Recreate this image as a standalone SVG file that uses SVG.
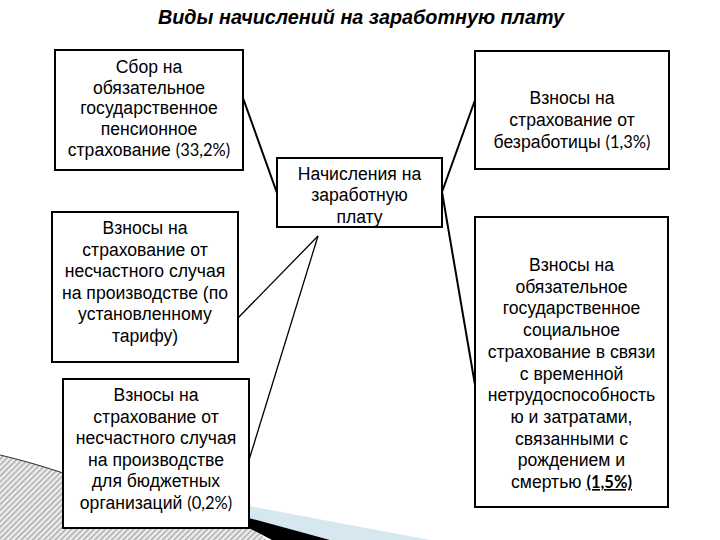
<svg xmlns="http://www.w3.org/2000/svg" width="720" height="540" viewBox="0 0 720 540">
<defs>
<pattern id="hatch" x="0" y="0" width="4" height="4" patternUnits="userSpaceOnUse" patternTransform="rotate(45)">
<rect x="0" y="0" width="4" height="4" fill="#eeeeee"/>
<rect x="0" y="0" width="1.5" height="4" fill="#ababab"/>
</pattern>
<style>
.box{fill:#ffffff;stroke:#000000;stroke-width:2}
.t{font-family:"Liberation Sans",Arial,sans-serif;font-size:17.6px;fill:#000000;text-anchor:middle}
.c{font-family:Lato,"Open Sans",sans-serif;font-size:16.5px}
.conn{stroke:#000000;fill:none}
.title{font-family:"Liberation Sans",Arial,sans-serif;font-size:19.8px;font-weight:bold;font-style:italic;text-anchor:middle;fill:#000000}
</style>
</defs>
<rect width="720" height="540" fill="#ffffff"/>
<g id="decoration">
<path d="M0,455 Q30,462 63,473 L250,524 L266,540 L0,540 Z" fill="#dddddd"/>
<path d="M0,455 Q30,462 63,473 L250,524 L266,540 L0,540 Z" fill="url(#hatch)"/>
<path d="M0,455 Q30,462 63,473" fill="none" stroke="#2a3a40" stroke-width="1.2"/>
<polygon points="249,506 430,540 330,540 249,518" fill="#d6e7ef"/>
<polygon points="249,518 330,540 272,540 249,528" fill="#000000"/>
</g>
<text class="title" x="361" y="24">Виды начислений на заработную плату</text>
<g id="connectors">
<line class="conn" x1="243" y1="98" x2="277" y2="193" stroke-width="2"/>
<line class="conn" x1="442" y1="192" x2="475" y2="100" stroke-width="2"/>
<line class="conn" x1="442" y1="192" x2="475" y2="385" stroke-width="2"/>
<line class="conn" x1="238" y1="318" x2="318" y2="236" stroke-width="1.3"/>
<line class="conn" x1="318" y1="236" x2="249" y2="460" stroke-width="1.3"/>
</g>
<g id="node-pension">
<rect class="box" x="55" y="50" width="188" height="120"/>
<text class="t" x="149" y="73">Сбор на</text>
<text class="t" x="149" y="94">обязательное</text>
<text class="t" x="149" y="114">государственное</text>
<text class="t" x="149" y="135">пенсионное</text>
<text class="t" x="149" y="156">страхование <tspan class="c">(33,2%)</tspan></text>
</g>
<g id="node-center">
<rect class="box" x="277" y="158" width="165" height="69"/>
<text class="t" x="359.5" y="180">Начисления на</text>
<text class="t" x="359.5" y="201">заработную</text>
<text class="t" x="359.5" y="223">плату</text>
</g>
<g id="node-unemployment">
<rect class="box" x="475" y="51" width="194" height="118"/>
<text class="t" x="572" y="104">Взносы на</text>
<text class="t" x="572" y="126">страхование от</text>
<text class="t" x="572" y="148">безработицы <tspan class="c">(1,3%)</tspan></text>
</g>
<g id="node-accident">
<rect class="box" x="52" y="212" width="186" height="150"/>
<text class="t" x="145" y="234">Взносы на</text>
<text class="t" x="145" y="255.6">страхование от</text>
<text class="t" x="145" y="277.2">несчастного случая</text>
<text class="t" x="145" y="298.8">на производстве (по</text>
<text class="t" x="145" y="320.4">установленному</text>
<text class="t" x="145" y="342">тарифу)</text>
</g>
<g id="node-accident-budget">
<rect class="box" x="63" y="379" width="186" height="149"/>
<text class="t" x="156" y="401">Взносы на</text>
<text class="t" x="156" y="422.6">страхование от</text>
<text class="t" x="156" y="444.2">несчастного случая</text>
<text class="t" x="156" y="465.8">на производстве</text>
<text class="t" x="156" y="487.4">для бюджетных</text>
<text class="t" x="156" y="509">организаций <tspan class="c">(0,2%)</tspan></text>
</g>
<g id="node-social">
<rect class="box" x="475" y="217" width="193" height="290"/>
<text class="t" x="571.5" y="271">Взносы на</text>
<text class="t" x="571.5" y="292.7">обязательное</text>
<text class="t" x="571.5" y="314.4">государственное</text>
<text class="t" x="571.5" y="336.1">социальное</text>
<text class="t" x="571.5" y="357.8">страхование в связи</text>
<text class="t" x="571.5" y="379.5">с временной</text>
<text class="t" x="571.5" y="401.2">нетрудоспособность</text>
<text class="t" x="571.5" y="422.9">ю и затратами,</text>
<text class="t" x="571.5" y="444.6">связанными с</text>
<text class="t" x="571.5" y="466.3">рождением и</text>
<text class="t" x="571.5" y="488">смертью <tspan class="c" font-weight="bold" text-decoration="underline">(1,5%)</tspan></text>
</g>
</svg>
